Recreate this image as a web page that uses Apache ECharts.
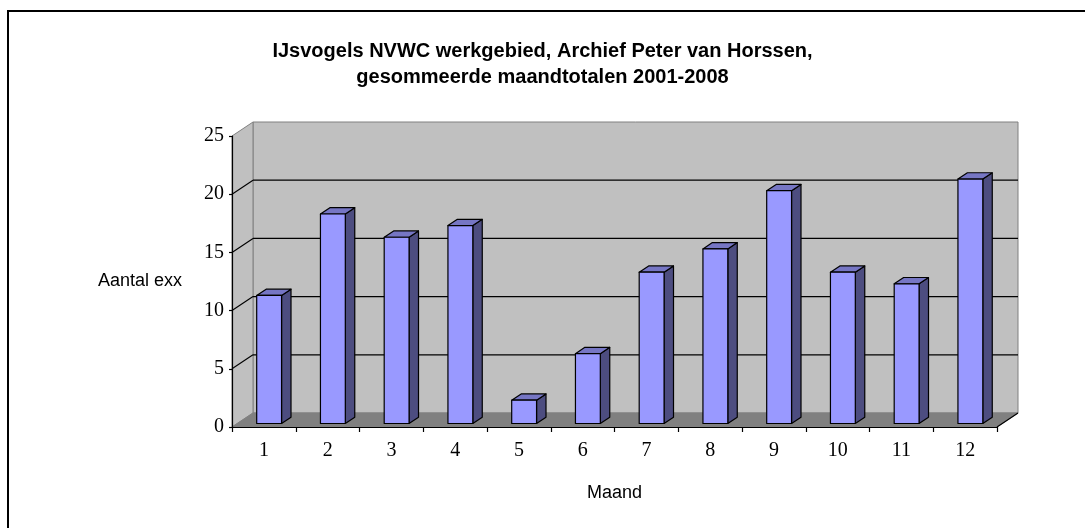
<!DOCTYPE html>
<html>
<head>
<meta charset="utf-8">
<script src="https://cdn.jsdelivr.net/npm/echarts@6/dist/echarts.min.js"></script>
<style>
  html, body { margin: 0; padding: 0; background: #fff; }
  #chart { width: 1085px; height: 528px; }
</style>
</head>
<body>
<div id="chart"></div>
<script>
// data
const months = ['1', '2', '3', '4', '5', '6', '7', '8', '9', '10', '11', '12']
const counts = [11, 18, 16, 17, 2, 6, 13, 15, 20, 13, 12, 21]
const yTicks = [0, 5, 10, 15, 20, 25]

// fake 3d: depth of the walls in pixels, bars sit in the middle of it
const DX = 21
const DY = -14
const BAR_FRONT = 0.25
const BAR_BACK = 0.7
const BAR_WIDTH = 0.39

const chart = echarts.init(document.getElementById('chart'))

function renderWalls(params, api) {
  const cs = params.coordSys
  const x0 = cs.x
  const x1 = cs.x + cs.width
  const yb = api.coord([0, yTicks[0]])[1]
  const yt = api.coord([0, yTicks[yTicks.length - 1]])[1]
  const children = []
  children.push({
    type: 'rect',
    shape: { x: x0 + DX, y: yt + DY, width: x1 - x0, height: yb - yt },
    style: { fill: '#c0c0c0', stroke: '#808080', lineWidth: 1 }
  })
  children.push({
    type: 'polygon',
    shape: { points: [[x0, yt], [x0 + DX, yt + DY], [x0 + DX, yb + DY], [x0, yb]] },
    style: { fill: '#c0c0c0', stroke: '#808080', lineWidth: 1 }
  })
  children.push({
    type: 'polygon',
    shape: { points: [[x0, yb], [x0 + DX, yb + DY], [x1 + DX, yb + DY], [x1, yb]] },
    style: { fill: '#808080', stroke: '#808080', lineWidth: 1 }
  })
  yTicks.slice(1, -1).forEach(v => {
    const y = api.coord([0, v])[1]
    children.push({
      type: 'line',
      shape: { x1: x0, y1: y, x2: x0 + DX, y2: y + DY },
      style: { stroke: '#000', lineWidth: 1.2 }
    })
    children.push({
      type: 'line',
      shape: { x1: x0 + DX, y1: y + DY, x2: x1 + DX, y2: y + DY },
      style: { stroke: '#000', lineWidth: 1.2 }
    })
  })
  children.push({
    type: 'line',
    shape: { x1: x1, y1: yb, x2: x1 + DX, y2: yb + DY },
    style: { stroke: '#000', lineWidth: 1.2 }
  })
  return { type: 'group', children }
}

function renderBar(params, api) {
  const i = api.value(0)
  const v = api.value(1)
  const base = api.coord([i, 0])
  const top = api.coord([i, v])
  const w = api.size([1, 0])[0] * BAR_WIDTH
  const xL = base[0] - w / 2 + DX * BAR_FRONT
  const xR = xL + w
  const yB = base[1] + DY * BAR_FRONT
  const yT = top[1] + DY * BAR_FRONT
  const ddx = DX * (BAR_BACK - BAR_FRONT)
  const ddy = DY * (BAR_BACK - BAR_FRONT)
  const line = { stroke: '#000', lineWidth: 1.2, lineJoin: 'round' }
  return {
    type: 'group',
    children: [
      {
        type: 'polygon',
        shape: { points: [[xR, yB], [xR + ddx, yB + ddy], [xR + ddx, yT + ddy], [xR, yT]] },
        style: Object.assign({ fill: '#4d4d80' }, line)
      },
      {
        type: 'polygon',
        shape: { points: [[xL, yT], [xL + ddx, yT + ddy], [xR + ddx, yT + ddy], [xR, yT]] },
        style: Object.assign({ fill: '#7676c4' }, line)
      },
      {
        type: 'rect',
        shape: { x: xL, y: yT, width: w, height: yB - yT },
        style: Object.assign({ fill: '#9999ff' }, line)
      }
    ]
  }
}

const option = {
  animation: false,
  title: {
    text: 'IJsvogels NVWC werkgebied, Archief Peter van Horssen,\ngesommeerde maandtotalen 2001-2008',
    left: 'center',
    top: 33,
    textStyle: {
      fontFamily: 'Liberation Sans',
      fontWeight: 'bold',
      fontSize: 20,
      lineHeight: 26,
      color: '#000'
    }
  },
  graphic: [
    {
      type: 'rect',
      shape: { x: 8, y: 11, width: 1100, height: 540 },
      style: { fill: 'none', stroke: '#000', lineWidth: 2 },
      silent: true
    }
  ],
  grid: {
    left: 232,
    right: 88,
    top: 136,
    bottom: 101,
    containLabel: false
  },
  xAxis: {
    type: 'category',
    data: months,
    z: 10,
    name: 'Maand',
    nameLocation: 'middle',
    nameGap: 57,
    nameTextStyle: { fontFamily: 'Liberation Sans', fontSize: 18, color: '#000' },
    axisLine: { lineStyle: { color: '#000', width: 1.2 } },
    axisTick: { show: true, interval: 0, length: 5, lineStyle: { color: '#000', width: 1.2 } },
    axisLabel: { fontFamily: 'Liberation Serif', fontSize: 20, color: '#000', margin: 14 },
    splitLine: { show: false }
  },
  yAxis: {
    type: 'value',
    min: 0,
    max: 25,
    interval: 5,
    z: 10,
    name: 'Aantal exx',
    nameLocation: 'middle',
    nameRotate: 0,
    nameGap: 92,
    nameTextStyle: { fontFamily: 'Liberation Sans', fontSize: 18, color: '#000', align: 'center' },
    axisLine: { show: true, lineStyle: { color: '#000', width: 1.2 } },
    axisTick: { show: true, length: 3, lineStyle: { color: '#000', width: 1.2 } },
    axisLabel: { fontFamily: 'Liberation Serif', fontSize: 20, color: '#000', margin: 8 },
    splitLine: { show: false }
  },
  series: [
    {
      type: 'custom',
      name: 'walls',
      silent: true,
      z: 1,
      renderItem: renderWalls,
      data: [[0, 0]]
    },
    {
      type: 'custom',
      name: 'Aantal exx',
      z: 2,
      renderItem: renderBar,
      encode: { x: 0, y: 1 },
      data: counts.map((v, i) => [i, v])
    }
  ]
}

chart.setOption(option)
window.addEventListener('resize', () => chart.resize())
</script>
</body>
</html>
